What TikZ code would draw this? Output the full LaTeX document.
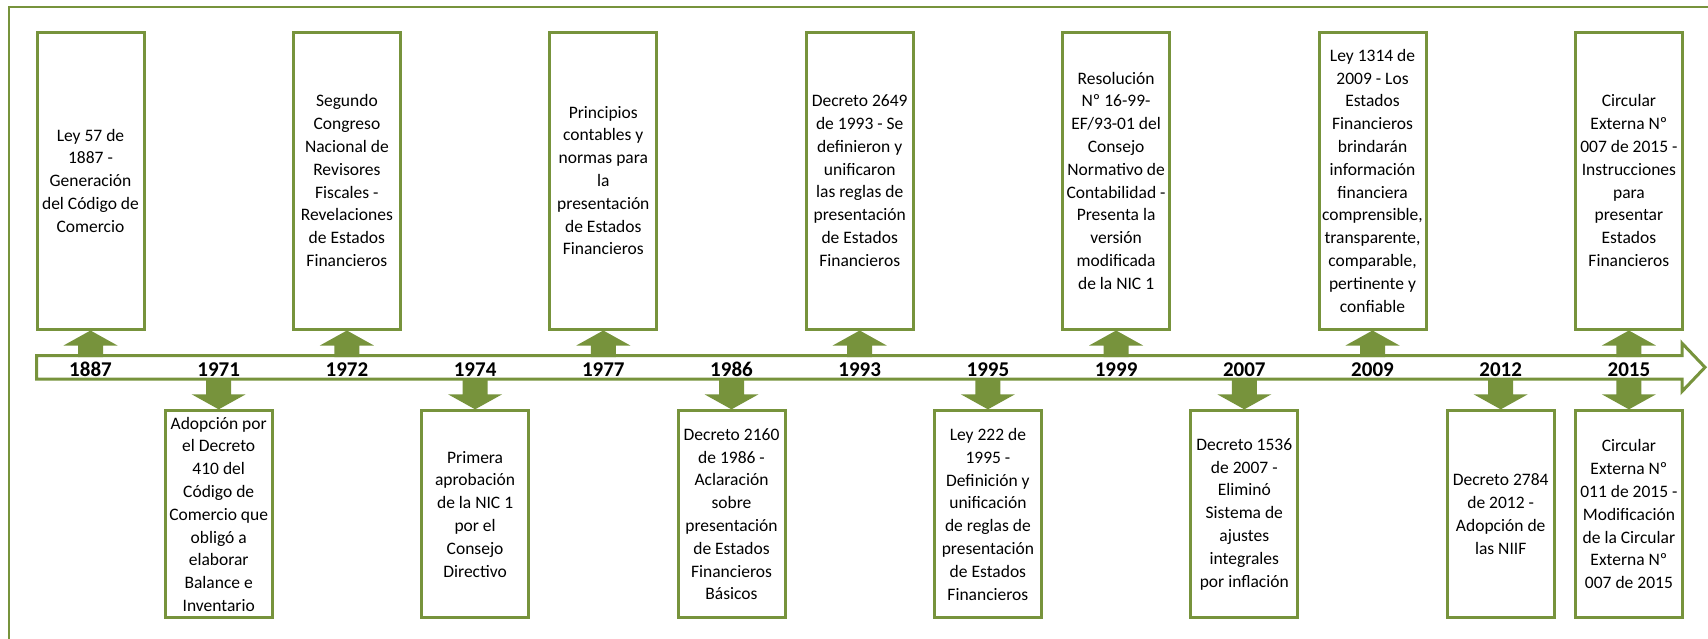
\documentclass[tikz,border=0pt]{standalone}
\usepackage{fontspec}
\setmainfont{Carlito}
\definecolor{olv}{RGB}{119,147,60}
\newcommand{\boxfont}{\fontsize{17.5}{22.8}\selectfont}
\newcommand{\yearfont}{\fontsize{21}{25}\selectfont\bfseries}
% block arrows pointing at a box
\newcommand{\uparw}[1]{\fill[olv] (#1.south) -- ++(-27,-15) -- ++(14.5,0) -- ++(0,-11.5) -- ++(25,0) -- ++(0,11.5) -- ++(14.5,0) -- cycle;}
\newcommand{\downarw}[1]{\fill[olv] (#1.north) -- ++(-27,15) -- ++(14.5,0) -- ++(0,16) -- ++(25,0) -- ++(0,-16) -- ++(14.5,0) -- cycle;}

\begin{document}
\begin{tikzpicture}[x=1pt,y=1pt,
    topbox/.style={draw=olv, line width=3pt, minimum width=107pt, minimum height=296.8pt, inner sep=0pt, align=center, font=\boxfont},
    botbox/.style={topbox, minimum height=206.7pt},
    yearlbl/.style={font=\yearfont, anchor=base, inner sep=0pt}]
    \useasboundingbox (0,0) rectangle (1708,-639);
    % frame
    \draw[olv, line width=2pt] (9,-660) -- (9,-7) -- (1730,-7);
    % timeline
    \draw[olv, line width=3pt, fill=white] (36.5,-355.5) -- (1682,-355.5) -- (1682,-343.2) -- (1705,-367.3) -- (1682,-391.5) -- (1682,-379.2) -- (36.5,-379.2) -- cycle;
    \coordinate (toprow) at (0,-180.6);
    \coordinate (botrow) at (0,-514.2);
    \foreach \yr [count=\i from 0] in {1887,1971,1972,1974,1977,1986,1993,1995,1999,2007,2009,2012,2015}
        \node[yearlbl] (yr\yr) at ({90.5+128.2*\i},-376) {\yr};

    % events above the line
    \foreach \yr/\txt in {
        1887/{Ley 57 de\\1887 -\\Generación\\del Código de\\Comercio},
        1972/{Segundo\\Congreso\\Nacional de\\Revisores\\Fiscales -\\Revelaciones\\de Estados\\Financieros},
        1977/{Principios\\contables y\\normas para\\la\\presentación\\de Estados\\Financieros},
        1993/{Decreto 2649\\de 1993 - Se\\definieron y\\unificaron\\las reglas de\\presentación\\de Estados\\Financieros},
        1999/{Resolución\\Nº 16-99-\\EF/93-01 del\\Consejo\\Normativo de\\Contabilidad -\\Presenta la\\versión\\modificada\\de la NIC 1},
        2009/{Ley 1314 de\\2009 - Los\\Estados\\Financieros\\brindarán\\información\\financiera\\comprensible,\\transparente,\\comparable,\\pertinente y\\confiable},
        2015/{Circular\\Externa Nº\\007 de 2015 -\\Instrucciones\\para\\presentar\\Estados\\Financieros}}{
        \node[topbox] (up\yr) at (yr\yr |- toprow) {\txt};
        \uparw{up\yr}
    }

    % events below the line
    \foreach \yr/\txt in {
        1971/{Adopción por\\el Decreto\\410 del\\Código de\\Comercio que\\obligó a\\elaborar\\Balance e\\Inventario},
        1974/{Primera\\aprobación\\de la NIC 1\\por el\\Consejo\\Directivo},
        1986/{Decreto 2160\\de 1986 -\\Aclaración\\sobre\\presentación\\de Estados\\Financieros\\Básicos},
        1995/{Ley 222 de\\1995 -\\Definición y\\unificación\\de reglas de\\presentación\\de Estados\\Financieros},
        2007/{Decreto 1536\\de 2007 -\\Eliminó\\Sistema de\\ajustes\\integrales\\por inflación},
        2012/{Decreto 2784\\de 2012 -\\Adopción de\\las NIIF},
        2015/{Circular\\Externa Nº\\011 de 2015 -\\Modificación\\de la Circular\\Externa Nº\\007 de 2015}}{
        \node[botbox] (dn\yr) at (yr\yr |- botrow) {\txt};
        \downarw{dn\yr}
    }
\end{tikzpicture}
\end{document}
